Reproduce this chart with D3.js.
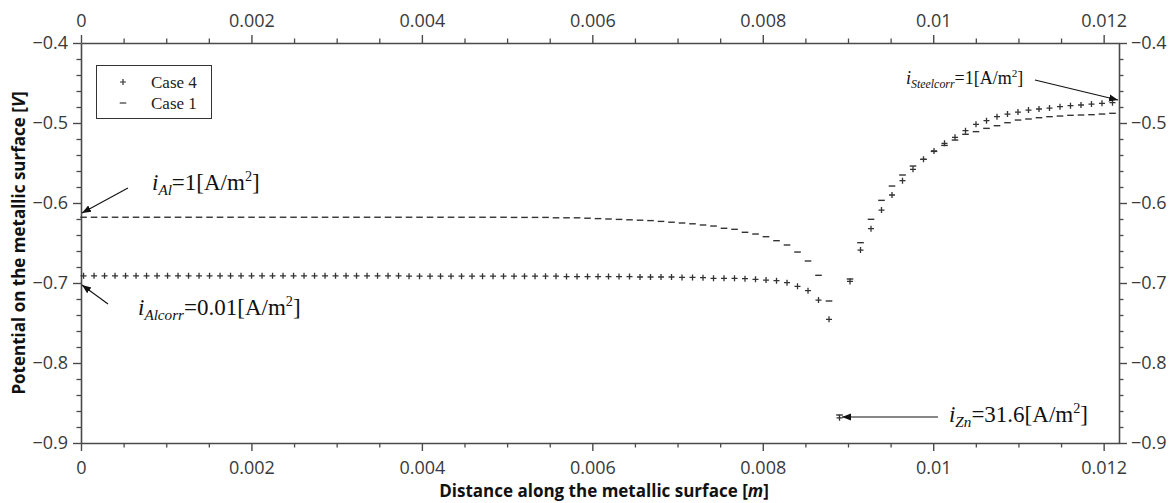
<!DOCTYPE html>
<html><head><meta charset="utf-8">
<script src="https://cdn.jsdelivr.net/npm/d3@7/dist/d3.min.js"></script>
<style>body{margin:0;background:#fff}svg{display:block}</style>
</head><body>
<svg id="c" width="1170" height="503"></svg>
<script>
// Sample positions along the surface [m]
const xPos = [0.0000300,0.0001532,0.0002764,0.0003996,0.0005228,0.0006460,0.0007692,0.0008924,0.0010156,0.0011388,
0.0012620,0.0013852,0.0015084,0.0016316,0.0017548,0.0018780,0.0020012,0.0021244,0.0022476,0.0023708,
0.0024940,0.0026172,0.0027404,0.0028636,0.0029868,0.0031100,0.0032332,0.0033564,0.0034796,0.0036028,
0.0037260,0.0038492,0.0039724,0.0040956,0.0042188,0.0043420,0.0044652,0.0045884,0.0047116,0.0048348,
0.0049580,0.0050812,0.0052044,0.0053276,0.0054508,0.0055740,0.0056972,0.0058204,0.0059436,0.0060668,
0.0061900,0.0063132,0.0064364,0.0065596,0.0066828,0.0068060,0.0069292,0.0070524,0.0071756,0.0072988,
0.0074220,0.0075452,0.0076684,0.0077916,0.0079148,0.0080380,0.0081612,0.0082844,0.0084076,0.0085308,
0.0086540,0.0087772,0.0089004,0.0090236,0.0091468,0.0092700,0.0093932,0.0095164,0.0096396,0.0097628,
0.0098860,0.0100092,0.0101324,0.0102556,0.0103788,0.0105020,0.0106252,0.0107484,0.0108716,0.0109948,
0.0111180,0.0112412,0.0113644,0.0114876,0.0116108,0.0117340,0.0118572,0.0119804,0.0121036];

// Case 4 potential [V]
const case4 = [-0.691,-0.691,-0.691,-0.691,-0.691,-0.691,-0.691,-0.691,-0.691,-0.691,
-0.691,-0.691,-0.691,-0.691,-0.691,-0.691,-0.691,-0.691,-0.691,-0.691,
-0.691,-0.691,-0.691,-0.691,-0.691,-0.691,-0.691,-0.691,-0.691,-0.691,
-0.691,-0.6915,-0.6915,-0.6915,-0.6915,-0.6915,-0.6915,-0.6915,-0.6915,-0.6915,
-0.6915,-0.6915,-0.6915,-0.6915,-0.6915,-0.6915,-0.692,-0.692,-0.692,-0.692,
-0.692,-0.692,-0.692,-0.6925,-0.6925,-0.6925,-0.6925,-0.693,-0.693,-0.6934,
-0.6941,-0.6941,-0.6941,-0.6946,-0.6954,-0.6963,-0.6971,-0.6996,-0.7041,-0.7096,
-0.7213,-0.7454,-0.8685,-0.698,-0.6588,-0.6321,-0.6088,-0.590,-0.5721,-0.5579,
-0.5454,-0.535,-0.5254,-0.5179,-0.5096,-0.5016,-0.4971,-0.4921,-0.4888,-0.4863,
-0.4838,-0.4825,-0.4813,-0.4796,-0.4784,-0.4775,-0.4763,-0.4754,-0.4746];

// Case 1 potential [V]
const case1 = [-0.6178,-0.6178,-0.6178,-0.6178,-0.6178,-0.6178,-0.6178,-0.6178,-0.6178,-0.6178,
-0.6178,-0.6178,-0.6178,-0.6178,-0.6178,-0.6178,-0.6178,-0.6178,-0.6178,-0.6178,
-0.6178,-0.6178,-0.6178,-0.6178,-0.6178,-0.6178,-0.6178,-0.6178,-0.6178,-0.6178,
-0.6178,-0.6178,-0.6178,-0.6178,-0.6178,-0.6178,-0.6178,-0.6178,-0.6178,-0.6178,
-0.6178,-0.618,-0.618,-0.618,-0.618,-0.6185,-0.6185,-0.6185,-0.619,-0.6195,
-0.620,-0.6205,-0.621,-0.6215,-0.622,-0.623,-0.624,-0.625,-0.626,-0.6275,
-0.6288,-0.6316,-0.6329,-0.6366,-0.6388,-0.6421,-0.6471,-0.6525,-0.6613,-0.6725,
-0.6904,-0.7225,-0.865,-0.695,-0.6496,-0.6204,-0.5967,-0.5788,-0.565,-0.5538,
-0.5454,-0.5355,-0.528,-0.5213,-0.5141,-0.5108,-0.5067,-0.5034,-0.4996,-0.4963,
-0.495,-0.4934,-0.4921,-0.4913,-0.4904,-0.490,-0.4896,-0.4888,-0.4879];

const xTicks = [0, 0.002, 0.004, 0.006, 0.008, 0.01, 0.012];
const xTickLabels = ["0", "0.002", "0.004", "0.006", "0.008", "0.01", "0.012"];
const yTicks = [-0.9, -0.8, -0.7, -0.6, -0.5, -0.4];
const yTickLabels = ["\u22120.9", "\u22120.8", "\u22120.7", "\u22120.6", "\u22120.5", "\u22120.4"];
const xMinor = [0.0005,0.001,0.0015,0.0025,0.003,0.0035,0.0045,0.005,0.0055,0.0065,0.007,0.0075,0.0085,0.009,0.0095,0.0105,0.011,0.0115];
const yMinor = [-0.88,-0.86,-0.84,-0.82,-0.78,-0.76,-0.74,-0.72,-0.68,-0.66,-0.64,-0.62,-0.58,-0.56,-0.54,-0.52,-0.48,-0.46,-0.44,-0.42];
const seriesNames = ["Case 4", "Case 1"];

const svg = d3.select("#c");
const L = 81, R = 1119, T = 43, B = 443;
const x = d3.scaleLinear().domain([0, 0.01218]).range([L, R]);
const y = d3.scaleLinear().domain([-0.9, -0.4]).range([B, T]);
const axCol = "#4a4a4a", txtCol = "#3a3a3a", mkCol = "#333";

function styleAxis(g) {
  g.select(".domain").attr("stroke", axCol).attr("stroke-width", 1.6);
  g.selectAll(".tick line").attr("stroke", axCol).attr("stroke-width", 1.4);
  g.selectAll(".tick text").attr("fill", txtCol).style("font-family", "'Open Sans', 'Noto Sans', sans-serif").style("font-size", "18px");
}
function minorAxis(axisGen, vals, tr) {
  const g = svg.append("g").attr("transform", tr).call(axisGen.tickValues(vals).tickSize(4.5).tickFormat(""));
  g.select(".domain").remove();
  g.selectAll(".tick line").attr("stroke", axCol).attr("stroke-width", 1.3);
}
minorAxis(d3.axisBottom(x), xMinor, `translate(0,${B})`);
minorAxis(d3.axisTop(x), xMinor, `translate(0,${T})`);
minorAxis(d3.axisLeft(y), yMinor, `translate(${L},0)`);
minorAxis(d3.axisRight(y), yMinor, `translate(${R},0)`);

const fmtX = d => xTickLabels[xTicks.indexOf(d)];
const fmtY = d => yTickLabels[yTicks.indexOf(d)];
const gB = svg.append("g").attr("transform", `translate(0,${B})`)
  .call(d3.axisBottom(x).tickValues(xTicks).tickFormat(fmtX).tickSize(8).tickPadding(10).tickSizeOuter(0));
styleAxis(gB);
const gT = svg.append("g").attr("transform", `translate(0,${T})`)
  .call(d3.axisTop(x).tickValues(xTicks).tickFormat(fmtX).tickSize(8).tickPadding(8).tickSizeOuter(0));
styleAxis(gT);
const gL = svg.append("g").attr("transform", `translate(${L},0)`)
  .call(d3.axisLeft(y).tickValues(yTicks).tickFormat(fmtY).tickSize(8).tickPadding(5).tickSizeOuter(0));
styleAxis(gL);
const gR = svg.append("g").attr("transform", `translate(${R},0)`)
  .call(d3.axisRight(y).tickValues(yTicks).tickFormat(fmtY).tickSize(8).tickPadding(4).tickSizeOuter(0));
styleAxis(gR);

// axis titles
svg.append("text").attr("x", (L + R) / 2 + 4).attr("y", 497).attr("text-anchor", "middle")
  .style("font-family", "'Open Sans', sans-serif").style("font-size", "17px").style("font-weight", "bold").attr("fill", "#111")
  .html('Distance along the metallic surface [<tspan font-style="italic">m</tspan>]');
svg.append("text").attr("transform", `translate(25,${(T + B) / 2}) rotate(-90)`).attr("text-anchor", "middle")
  .style("font-family", "'Open Sans', sans-serif").style("font-size", "17px").style("font-weight", "bold").attr("fill", "#111")
  .html('Potential on the metallic surface [<tspan font-style="italic">V</tspan>]');

// markers
const plusPath = "M-3,0H3M0,-3V3";
const dashPath = "M-3.3,0H3.3";
svg.append("g").selectAll("path").data(xPos).join("path")
  .attr("d", dashPath).attr("transform", (d, i) => `translate(${x(d)},${y(case1[i])})`)
  .attr("stroke", mkCol).attr("stroke-width", 1.4).attr("fill", "none");
svg.append("g").selectAll("path").data(xPos).join("path")
  .attr("d", plusPath).attr("transform", (d, i) => `translate(${x(d)},${y(case4[i])})`)
  .attr("stroke", mkCol).attr("stroke-width", 1.3).attr("fill", "none");

// legend
const lg = svg.append("g");
lg.append("rect").attr("x", 96.5).attr("y", 65.5).attr("width", 115).attr("height", 53)
  .attr("fill", "#fff").attr("stroke", "#333").attr("stroke-width", 1);
[plusPath, dashPath].forEach((p, i) => {
  lg.append("path").attr("d", p).attr("transform", `translate(123,${82 + i * 21})`)
    .attr("stroke", mkCol).attr("stroke-width", 1.2).attr("fill", "none");
  lg.append("text").attr("x", 151).attr("y", 88 + i * 21).text(seriesNames[i])
    .style("font-family", "'Liberation Serif', serif").style("font-size", "17px").attr("fill", "#222");
});

// annotations (data coordinates)
svg.append("defs").append("marker").attr("id", "ah").attr("viewBox", "0 0 10 10")
  .attr("refX", 10).attr("refY", 5).attr("markerWidth", 9).attr("markerHeight", 9)
  .attr("markerUnits", "userSpaceOnUse").attr("orient", "auto")
  .append("path").attr("d", "M0,1L10,5L0,9Z").attr("fill", "#111");
const arrows = [
  {x1: 0.000551, y1: -0.5813, x2: 0.0000117, y2: -0.6125},
  {x1: 0.000317, y1: -0.7263, x2: 0.0000117, y2: -0.7025},
  {x1: 0.011194, y1: -0.4463, x2: 0.012168, y2: -0.4713},
  {x1: 0.010056, y1: -0.8675, x2: 0.00893, y2: -0.8675}
];
svg.append("g").selectAll("line").data(arrows).join("line")
  .attr("x1", d => x(d.x1)).attr("y1", d => y(d.y1)).attr("x2", d => x(d.x2)).attr("y2", d => y(d.y2))
  .attr("stroke", "#111").attr("stroke-width", 1.1).attr("marker-end", "url(#ah)");

const labels = [
  {x: 0.000833, y: -0.5838, sub: "Al", rest: "=1[A/m", size: 23},
  {x: 0.000669, y: -0.7400, sub: "Alcorr", rest: "=0.01[A/m", size: 23},
  {x: 0.009681, y: -0.4513, sub: "Steelcorr", rest: "=1[A/m", size: 18},
  {x: 0.010185, y: -0.8738, sub: "Zn", rest: "=31.6[A/m", size: 23}
];
labels.forEach(l => {
  const t = svg.append("text").attr("x", x(l.x)).attr("y", y(l.y))
    .style("font-family", "'Liberation Serif', serif").style("font-size", l.size + "px").attr("fill", "#111");
  const s = l.size;
  t.append("tspan").attr("font-style", "italic").text("i");
  t.append("tspan").attr("font-style", "italic").attr("font-size", (s * 0.66) + "px").attr("dy", s * 0.2).text(l.sub);
  t.append("tspan").attr("dy", -s * 0.2).text(l.rest);
  t.append("tspan").attr("font-size", (s * 0.62) + "px").attr("dy", -s * 0.38).text("2");
  t.append("tspan").attr("dy", s * 0.38).text("]");
});
</script>
</body></html>
